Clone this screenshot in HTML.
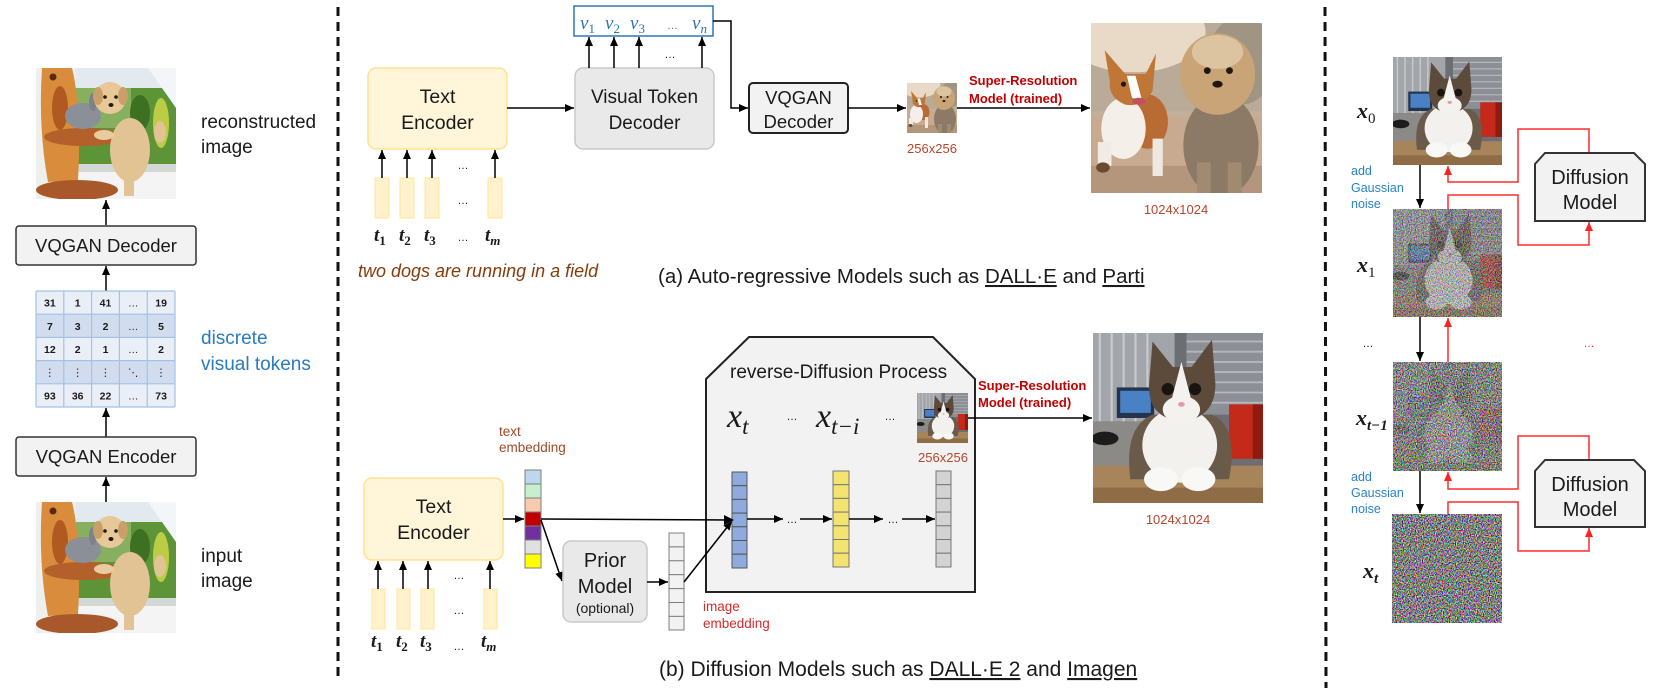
<!DOCTYPE html>
<html><head><meta charset="utf-8">
<style>
html,body{margin:0;padding:0;background:#fff;width:1661px;height:690px;overflow:hidden}
svg{display:block}
text{font-family:"Liberation Sans","DejaVu Sans",sans-serif;fill:#1a1a1a}
.m{font-family:"Liberation Serif","DejaVu Serif",serif;font-style:italic}
.mb{font-family:"Liberation Serif","DejaVu Serif",serif;font-style:italic;font-weight:bold}
.up{font-style:normal}
</style></head><body>
<svg width="1661" height="690" viewBox="0 0 1661 690" xmlns="http://www.w3.org/2000/svg">
<defs>
 <marker id="a" markerWidth="10" markerHeight="8" refX="9" refY="4" orient="auto" markerUnits="userSpaceOnUse"><path d="M0,0 L9,4 L0,8 z" fill="#000"/></marker>
 <marker id="ar" markerWidth="10" markerHeight="8" refX="9" refY="4" orient="auto" markerUnits="userSpaceOnUse"><path d="M0,0 L9,4 L0,8 z" fill="#ff2020"/></marker>
 <filter id="nz" x="0" y="0" width="1" height="1" color-interpolation-filters="sRGB">
  <feTurbulence type="fractalNoise" baseFrequency="0.85" numOctaves="2" seed="5"/>
  <feColorMatrix type="matrix" values="2.6 0 0 0 -0.8  0 2.6 0 0 -0.8  0 0 2.6 0 -0.8  0 0 0 0 1"/>
 </filter>
 <clipPath id="c100"><rect x="0" y="0" width="100" height="100"/></clipPath>
 <clipPath id="cpup"><rect x="0" y="0" width="140" height="131"/></clipPath>
 <g id="cat" clip-path="url(#c100)">
  <rect width="100" height="100" fill="#6c6e72"/>
  <rect x="0" y="0" width="48" height="52" fill="#a2a5a9"/>
  <g stroke="#c8cacc" stroke-width="1.3"><line x1="4" y1="0" x2="4" y2="52"/><line x1="11" y1="0" x2="11" y2="52"/><line x1="18" y1="0" x2="18" y2="52"/><line x1="25" y1="0" x2="25" y2="52"/><line x1="32" y1="0" x2="32" y2="52"/></g>
  <rect x="55" y="0" width="45" height="48" fill="#8c9096"/>
  <g stroke="#b4b8bc" stroke-width="1.1"><line x1="55" y1="5" x2="100" y2="5"/><line x1="55" y1="11" x2="100" y2="11"/><line x1="55" y1="17" x2="100" y2="17"/><line x1="55" y1="23" x2="100" y2="23"/><line x1="55" y1="29" x2="100" y2="29"/><line x1="55" y1="35" x2="100" y2="35"/><line x1="55" y1="41" x2="100" y2="41"/></g>
  <rect x="14" y="32" width="22" height="18" fill="#24344e"/>
  <rect x="16" y="34" width="18" height="13" fill="#4a80c4"/>
  <rect x="0" y="52" width="34" height="30" fill="#8c8a86"/>
  <ellipse cx="7" cy="62" rx="8" ry="4" fill="#1c1c1c"/>
  <rect x="80" y="42" width="20" height="32" fill="#c42a1a"/>
  <rect x="94" y="42" width="6" height="32" fill="#8e1a10"/>
  <rect x="0" y="78" width="100" height="22" fill="#a8845a"/>
  <rect x="0" y="91" width="100" height="9" fill="#8e6c46"/>
  <path d="M22,86 Q18,55 35,48 L70,48 Q86,55 80,86 Z" fill="#6a5a4a"/>
  <ellipse cx="51" cy="66" rx="22" ry="22" fill="#f2f1ee"/>
  <path d="M33,30 L35,5 L47,20 L58,20 L70,4 L72,30 Q72,50 52,52 Q32,50 33,30 Z" fill="#5c4a3a"/>
  <path d="M52,17 L46,40 Q52,52 58,40 Z" fill="#f4f2ef"/>
  <ellipse cx="52" cy="45" rx="11" ry="8" fill="#f4f2ef"/>
  <circle cx="44" cy="33" r="3.6" fill="#1a1410"/>
  <circle cx="60" cy="33" r="3.6" fill="#1a1410"/>
  <ellipse cx="52" cy="42" rx="2" ry="1.4" fill="#e59aa0"/>
  <ellipse cx="40" cy="86" rx="10" ry="7" fill="#f8f8f6"/>
  <ellipse cx="62" cy="86" rx="10" ry="7" fill="#f8f8f6"/>
 </g>
 <g id="dogs" clip-path="url(#c100)">
  <rect width="100" height="100" fill="#c4b09a"/>
  <rect width="100" height="52" fill="#b9ab98"/>
  <ellipse cx="25" cy="5" rx="42" ry="24" fill="#e8dac6"/>
  <ellipse cx="88" cy="22" rx="20" ry="26" fill="#a09482"/>
  <rect y="55" width="100" height="45" fill="#c8aa90"/>
  <rect y="84" width="100" height="16" fill="#b4967c"/>
  <ellipse cx="33" cy="58" rx="12" ry="16" fill="#b86c34"/>
  <ellipse cx="19" cy="62" rx="13" ry="18" fill="#f4efe8"/>
  <path d="M4,70 L12,70 L12,84 L4,86 Z" fill="#f0ebe4"/>
  <ellipse cx="7" cy="85" rx="4" ry="3" fill="#6a4a30"/>
  <path d="M36,68 L42,68 L42,90 L36,90 Z" fill="#efe8de"/>
  <path d="M8,16 L20,30 L32,30 L38,18 L36,40 Q30,50 20,48 Q10,44 11,34 Z" fill="#c07636"/>
  <path d="M21,31 L24,44 L30,46 L26,31 Z" fill="#fff"/>
  <ellipse cx="28" cy="46" rx="4" ry="2" fill="#c05060"/>
  <circle cx="19" cy="36" r="1.5" fill="#201810"/>
  <ellipse cx="76" cy="72" rx="22" ry="30" fill="#8c7a66"/>
  <ellipse cx="74" cy="30" rx="22" ry="24" fill="#c8a476"/>
  <ellipse cx="74" cy="17" rx="15" ry="10" fill="#dcc4a0"/>
  <circle cx="68" cy="28" r="2" fill="#201810"/>
  <circle cx="81" cy="28" r="2" fill="#201810"/>
  <ellipse cx="74" cy="36" rx="3" ry="2" fill="#201810"/>
  <rect x="62" y="82" width="8" height="18" fill="#a08a72"/>
  <rect x="80" y="82" width="8" height="18" fill="#a08a72"/>
 </g>
 <g id="pup" clip-path="url(#cpup)">
  <rect width="140" height="131" fill="#eef0ee"/>
  <rect x="40" y="0" width="100" height="28" fill="#e2eaf0"/>
  <rect x="40" y="20" width="100" height="78" fill="#5e9438"/>
  <rect x="40" y="20" width="55" height="40" fill="#86b060"/>
  <ellipse cx="125" cy="55" rx="8" ry="25" fill="#bccc44"/>
  <ellipse cx="104" cy="45" rx="10" ry="18" fill="#3d7020"/>
  <path d="M112,0 L140,0 L140,40 Z" fill="#f2f6f8"/>
  <rect x="40" y="96" width="100" height="8" fill="#d4d8d4"/>
  <rect x="40" y="104" width="100" height="27" fill="#f4f4f4"/>
  <path d="M6,0 L36,0 Q46,40 42,112 L12,114 Q2,60 6,0 Z" fill="#d88c3c"/>
  <ellipse cx="24" cy="40" rx="8" ry="22" fill="#b05a22"/>
  <circle cx="17" cy="9" r="3.5" fill="#5a2a10"/>
  <ellipse cx="48" cy="69" rx="40" ry="9" fill="#b4602a"/>
  <ellipse cx="41" cy="122" rx="41" ry="10" fill="#a8582a"/>
  <ellipse cx="47" cy="48" rx="18" ry="13" fill="#8a8f98"/>
  <ellipse cx="57" cy="34" rx="4" ry="9" fill="#7c818a"/>
  <ellipse cx="94" cy="82" rx="20" ry="32" fill="#e2c394"/>
  <circle cx="74" cy="30" r="16" fill="#e8c898"/>
  <ellipse cx="62" cy="28" rx="5" ry="9" fill="#c8a068"/>
  <ellipse cx="87" cy="28" rx="5" ry="9" fill="#c8a068"/>
  <ellipse cx="124" cy="64" rx="6" ry="11" fill="#e2c394"/>
  <rect x="88" y="104" width="10" height="24" fill="#e2c394"/>
  <ellipse cx="68" cy="67" rx="10" ry="5" fill="#e8cca0"/>
  <circle cx="69" cy="29" r="1.8" fill="#201810"/>
  <circle cx="80" cy="29" r="1.8" fill="#201810"/>
  <ellipse cx="75" cy="37" rx="2.5" ry="2" fill="#201810"/>
 </g>
</defs>

<!-- ============ LEFT PANEL ============ -->
<use href="#pup" transform="translate(36,68)"/>
<line x1="106" y1="225" x2="106" y2="200" stroke="#000" stroke-width="1.5" marker-end="url(#a)"/>
<text x="201" y="128" font-size="19">reconstructed</text>
<text x="201" y="153" font-size="19">image</text>
<rect x="16" y="226" width="180" height="39" rx="3" fill="#f2f2f2" stroke="#333" stroke-width="1.5"/>
<text x="106" y="252" font-size="18.5" text-anchor="middle">VQGAN Decoder</text>
<line x1="106" y1="291" x2="106" y2="266" stroke="#000" stroke-width="1.5" marker-end="url(#a)"/>
<rect x="36" y="291" width="139" height="23.2" fill="#e9eef7"/>
<rect x="36" y="314.2" width="139" height="23.2" fill="#d1ddef"/>
<rect x="36" y="337.4" width="139" height="23.2" fill="#e9eef7"/>
<rect x="36" y="360.6" width="139" height="23.2" fill="#d1ddef"/>
<rect x="36" y="383.8" width="139" height="23.2" fill="#e9eef7"/>
<g stroke="#a3c2e6" stroke-width="1.2">
 <line x1="36" y1="291" x2="36" y2="407"/><line x1="63.8" y1="291" x2="63.8" y2="407"/><line x1="91.6" y1="291" x2="91.6" y2="407"/><line x1="119.4" y1="291" x2="119.4" y2="407"/><line x1="147.2" y1="291" x2="147.2" y2="407"/><line x1="175" y1="291" x2="175" y2="407"/>
 <line x1="36" y1="291" x2="175" y2="291"/><line x1="36" y1="314.2" x2="175" y2="314.2"/><line x1="36" y1="337.4" x2="175" y2="337.4"/><line x1="36" y1="360.6" x2="175" y2="360.6"/><line x1="36" y1="383.8" x2="175" y2="383.8"/><line x1="36" y1="407" x2="175" y2="407"/>
</g>
<g font-size="10.5" font-weight="bold" text-anchor="middle">
 <text x="49.9" y="306.6">31</text><text x="77.7" y="306.6">1</text><text x="105.5" y="306.6">41</text><text x="133.3" y="306.6" font-weight="normal">…</text><text x="161.1" y="306.6">19</text>
 <text x="49.9" y="329.8">7</text><text x="77.7" y="329.8">3</text><text x="105.5" y="329.8">2</text><text x="133.3" y="329.8" font-weight="normal">…</text><text x="161.1" y="329.8">5</text>
 <text x="49.9" y="353">12</text><text x="77.7" y="353">2</text><text x="105.5" y="353">1</text><text x="133.3" y="353" font-weight="normal">…</text><text x="161.1" y="353">2</text>
 <text x="49.9" y="376.2" font-weight="normal">⋮</text><text x="77.7" y="376.2" font-weight="normal">⋮</text><text x="105.5" y="376.2" font-weight="normal">⋮</text><text x="133.3" y="376.2" font-weight="normal">⋱</text><text x="161.1" y="376.2" font-weight="normal">⋮</text>
 <text x="49.9" y="399.4">93</text><text x="77.7" y="399.4">36</text><text x="105.5" y="399.4">22</text><text x="133.3" y="399.4" font-weight="normal">…</text><text x="161.1" y="399.4">73</text>
</g>
<text x="201" y="344" font-size="19" style="fill:#2a7ac0">discrete</text>
<text x="201" y="370" font-size="19" style="fill:#2a7ac0">visual tokens</text>
<line x1="106" y1="437" x2="106" y2="408" stroke="#000" stroke-width="1.5" marker-end="url(#a)"/>
<rect x="16" y="437" width="180" height="39" rx="3" fill="#f2f2f2" stroke="#333" stroke-width="1.5"/>
<text x="106" y="463" font-size="18.5" text-anchor="middle">VQGAN Encoder</text>
<line x1="106" y1="502" x2="106" y2="477" stroke="#000" stroke-width="1.5" marker-end="url(#a)"/>
<use href="#pup" transform="translate(36,502)"/>
<text x="201" y="562" font-size="19">input</text>
<text x="201" y="587" font-size="19">image</text>

<!-- dashed separators -->
<line x1="338" y1="7" x2="338" y2="682" stroke="#111" stroke-width="3" stroke-dasharray="9,6"/>
<line x1="1325" y1="7" x2="1326" y2="688" stroke="#111" stroke-width="3" stroke-dasharray="9,6"/>

<!-- ============ (a) AUTO-REGRESSIVE ============ -->
<rect x="368" y="68" width="139" height="81" rx="8" fill="#fff5d9" stroke="#ffe28f" stroke-width="1.5"/>
<text x="437.5" y="103" font-size="19.5" text-anchor="middle">Text</text>
<text x="437.5" y="129" font-size="19.5" text-anchor="middle">Encoder</text>
<g fill="#fff2cc" stroke="#ffe699" stroke-width="1">
 <rect x="375" y="178" width="14" height="40"/><rect x="400" y="178" width="14" height="40"/><rect x="425" y="178" width="14" height="40"/><rect x="488" y="178" width="14" height="40"/>
</g>
<g stroke="#000" stroke-width="1.5">
 <line x1="382" y1="178" x2="382" y2="150" marker-end="url(#a)"/><line x1="407" y1="178" x2="407" y2="150" marker-end="url(#a)"/><line x1="432" y1="178" x2="432" y2="150" marker-end="url(#a)"/><line x1="495" y1="178" x2="495" y2="150" marker-end="url(#a)"/>
</g>
<g font-size="11" text-anchor="middle"><text x="463" y="169">…</text><text x="463" y="204">…</text><text x="463" y="241">…</text></g>
<g font-size="19" class="mb">
 <text x="374" y="241" class="mb">t<tspan class="up" font-size="13" dy="4">1</tspan></text>
 <text x="399" y="241" class="mb">t<tspan class="up" font-size="13" dy="4">2</tspan></text>
 <text x="424" y="241" class="mb">t<tspan class="up" font-size="13" dy="4">3</tspan></text>
 <text x="485" y="241" class="mb">t<tspan font-size="13" dy="4">m</tspan></text>
</g>
<text x="358" y="277" font-size="18" font-style="italic" style="fill:#843c0c">two dogs are running in a field</text>
<line x1="507" y1="108" x2="574" y2="108" stroke="#000" stroke-width="1.5" marker-end="url(#a)"/>
<rect x="575" y="68" width="139" height="81" rx="8" fill="#e9e9e9" stroke="#c9c9c9" stroke-width="1.5"/>
<text x="644.5" y="103" font-size="19" text-anchor="middle">Visual Token</text>
<text x="644.5" y="129" font-size="19" text-anchor="middle">Decoder</text>
<g stroke="#000" stroke-width="1.5">
 <line x1="589" y1="68" x2="589" y2="37" marker-end="url(#a)"/><line x1="614" y1="68" x2="614" y2="37" marker-end="url(#a)"/><line x1="639" y1="68" x2="639" y2="37" marker-end="url(#a)"/><line x1="702" y1="68" x2="702" y2="37" marker-end="url(#a)"/>
</g>
<text x="670" y="58" font-size="11" text-anchor="middle">…</text>
<rect x="574" y="6" width="139" height="30" fill="#fff" stroke="#2e75b6" stroke-width="1.5"/>
<g font-size="19" style="fill:#2e75b6">
 <text x="580" y="29" class="m" style="fill:#2e75b6">v<tspan class="up" font-size="13" dy="4" style="fill:#2e75b6">1</tspan></text>
 <text x="605" y="29" class="m" style="fill:#2e75b6">v<tspan class="up" font-size="13" dy="4" style="fill:#2e75b6">2</tspan></text>
 <text x="630" y="29" class="m" style="fill:#2e75b6">v<tspan class="up" font-size="13" dy="4" style="fill:#2e75b6">3</tspan></text>
 <text x="667" y="29" font-size="11" style="fill:#2e75b6">…</text>
 <text x="692" y="29" class="m" style="fill:#2e75b6">v<tspan font-size="13" dy="4" style="fill:#2e75b6">n</tspan></text>
</g>
<polyline points="713,21 731,21 731,108 748,108" fill="none" stroke="#000" stroke-width="1.5" marker-end="url(#a)"/>
<rect x="749" y="83" width="99" height="50" rx="4" fill="#f2f2f2" stroke="#222" stroke-width="2"/>
<text x="798.5" y="104" font-size="18.5" text-anchor="middle">VQGAN</text>
<text x="798.5" y="128" font-size="18.5" text-anchor="middle">Decoder</text>
<line x1="848" y1="108" x2="906" y2="108" stroke="#000" stroke-width="1.5" marker-end="url(#a)"/>
<use href="#dogs" transform="translate(907,83) scale(0.5,0.5)"/>
<text x="932" y="153" font-size="13" text-anchor="middle" style="fill:#b5462a">256x256</text>
<text x="969" y="85" font-size="13" font-weight="bold" style="fill:#c00000">Super-Resolution</text>
<text x="969" y="103" font-size="13" font-weight="bold" style="fill:#c00000">Model (trained)</text>
<line x1="957" y1="108" x2="1090" y2="108" stroke="#000" stroke-width="1.5" marker-end="url(#a)"/>
<use href="#dogs" transform="translate(1091,23) scale(1.71,1.70)"/>
<text x="1176" y="214" font-size="13" text-anchor="middle" style="fill:#b5462a">1024x1024</text>
<text x="658" y="283" font-size="20.5">(a) Auto-regressive Models such as <tspan text-decoration="underline">DALL·E</tspan> and <tspan text-decoration="underline">Parti</tspan></text>

<!-- ============ (b) DIFFUSION ============ -->
<text x="499" y="436" font-size="13.5" style="fill:#a04a28">text</text>
<text x="499" y="452" font-size="13.5" style="fill:#a04a28">embedding</text>
<rect x="364" y="478" width="139" height="82" rx="8" fill="#fff5d9" stroke="#ffe28f" stroke-width="1.5"/>
<text x="433.5" y="513" font-size="19.5" text-anchor="middle">Text</text>
<text x="433.5" y="539" font-size="19.5" text-anchor="middle">Encoder</text>
<g fill="#fff2cc" stroke="#ffe699" stroke-width="1">
 <rect x="372" y="589" width="13" height="40"/><rect x="397" y="589" width="13" height="40"/><rect x="421" y="589" width="13" height="40"/><rect x="484" y="589" width="13" height="40"/>
</g>
<g stroke="#000" stroke-width="1.5">
 <line x1="378" y1="589" x2="378" y2="561" marker-end="url(#a)"/><line x1="403" y1="589" x2="403" y2="561" marker-end="url(#a)"/><line x1="428" y1="589" x2="428" y2="561" marker-end="url(#a)"/><line x1="490" y1="589" x2="490" y2="561" marker-end="url(#a)"/>
</g>
<g font-size="11" text-anchor="middle"><text x="459" y="579">…</text><text x="459" y="614">…</text><text x="459" y="650">…</text></g>
<g font-size="19">
 <text x="371" y="647" class="mb">t<tspan class="up" font-size="13" dy="4">1</tspan></text>
 <text x="396" y="647" class="mb">t<tspan class="up" font-size="13" dy="4">2</tspan></text>
 <text x="420" y="647" class="mb">t<tspan class="up" font-size="13" dy="4">3</tspan></text>
 <text x="481" y="647" class="mb">t<tspan font-size="13" dy="4">m</tspan></text>
</g>
<g stroke="#7f7f7f" stroke-width="1">
 <rect x="525" y="470" width="16" height="14" fill="#bdd7ee"/>
 <rect x="525" y="484" width="16" height="14" fill="#c6efce"/>
 <rect x="525" y="498" width="16" height="14" fill="#f8cbad"/>
 <rect x="525" y="512" width="16" height="14" fill="#c00000"/>
 <rect x="525" y="526" width="16" height="14" fill="#7030a0"/>
 <rect x="525" y="540" width="16" height="14" fill="#e0e0e0"/>
 <rect x="525" y="554" width="16" height="14" fill="#ffff00"/>
</g>
<line x1="503" y1="519" x2="524" y2="519" stroke="#000" stroke-width="1.5" marker-end="url(#a)"/>
<line x1="541" y1="520" x2="562" y2="581" stroke="#000" stroke-width="1.5" marker-end="url(#a)"/>
<rect x="563" y="541" width="84" height="81" rx="8" fill="#e9e9e9" stroke="#c9c9c9" stroke-width="1.5"/>
<text x="605" y="567" font-size="20" text-anchor="middle">Prior</text>
<text x="605" y="593" font-size="20" text-anchor="middle">Model</text>
<text x="605" y="613" font-size="14" text-anchor="middle">(optional)</text>
<line x1="647" y1="582" x2="668" y2="582" stroke="#000" stroke-width="1.5" marker-end="url(#a)"/>
<g fill="#f2f2f2" stroke="#7f7f7f" stroke-width="1">
 <rect x="669" y="533" width="15" height="13.9"/><rect x="669" y="546.9" width="15" height="13.9"/><rect x="669" y="560.8" width="15" height="13.9"/><rect x="669" y="574.7" width="15" height="13.9"/><rect x="669" y="588.6" width="15" height="13.9"/><rect x="669" y="602.5" width="15" height="13.9"/><rect x="669" y="616.4" width="15" height="13.6"/>
</g>
<text x="703" y="611" font-size="13.5" style="fill:#d42a2a">image</text>
<text x="703" y="628" font-size="13.5" style="fill:#d42a2a">embedding</text>

<polygon points="706,379 749,337 933,337 975,379 975,592 706,592" fill="#f2f2f2" stroke="#222" stroke-width="2"/>
<line x1="541" y1="519" x2="733" y2="520" stroke="#000" stroke-width="1.5" marker-end="url(#a)"/>
<line x1="684" y1="582" x2="732" y2="521" stroke="#000" stroke-width="1.5" marker-end="url(#a)"/>
<text x="730" y="378" font-size="19">reverse-Diffusion Process</text>
<text x="727" y="427" class="m" font-size="34">x<tspan font-size="23" dy="7">t</tspan></text>
<text x="792" y="420" font-size="11" text-anchor="middle">…</text>
<text x="816" y="427" class="m" font-size="34">x<tspan font-size="23" dy="7">t−i</tspan></text>
<text x="890" y="420" font-size="11" text-anchor="middle">…</text>
<use href="#cat" transform="translate(917,393) scale(0.51,0.5)"/>
<text x="943" y="462" font-size="13" text-anchor="middle" style="fill:#b5462a">256x256</text>
<g fill="#8faadc" stroke="#555" stroke-width="1">
 <rect x="732" y="472" width="15" height="13.7"/><rect x="732" y="485.7" width="15" height="13.7"/><rect x="732" y="499.4" width="15" height="13.7"/><rect x="732" y="513.1" width="15" height="13.7"/><rect x="732" y="526.8" width="15" height="13.7"/><rect x="732" y="540.5" width="15" height="13.7"/><rect x="732" y="554.2" width="15" height="13.8"/>
</g>
<path d="M724,515 L734,520 L724,525 z" fill="#000"/>
<g fill="#f2e46e" stroke="#777" stroke-width="1">
 <rect x="833" y="471" width="16" height="13.7"/><rect x="833" y="484.7" width="16" height="13.7"/><rect x="833" y="498.4" width="16" height="13.7"/><rect x="833" y="512.1" width="16" height="13.7"/><rect x="833" y="525.8" width="16" height="13.7"/><rect x="833" y="539.5" width="16" height="13.7"/><rect x="833" y="553.2" width="16" height="13.8"/>
</g>
<g fill="#d3d3d3" stroke="#777" stroke-width="1">
 <rect x="936" y="471" width="15" height="13.7"/><rect x="936" y="484.7" width="15" height="13.7"/><rect x="936" y="498.4" width="15" height="13.7"/><rect x="936" y="512.1" width="15" height="13.7"/><rect x="936" y="525.8" width="15" height="13.7"/><rect x="936" y="539.5" width="15" height="13.7"/><rect x="936" y="553.2" width="15" height="13.8"/>
</g>
<g stroke="#000" stroke-width="1.5">
 <line x1="747" y1="519" x2="783" y2="519" marker-end="url(#a)"/>
 <line x1="800" y1="519" x2="832" y2="519" marker-end="url(#a)"/>
 <line x1="849" y1="519" x2="883" y2="519" marker-end="url(#a)"/>
 <line x1="902" y1="519" x2="935" y2="519" marker-end="url(#a)"/>
</g>
<text x="792" y="523" font-size="11" text-anchor="middle">…</text>
<text x="893" y="523" font-size="11" text-anchor="middle">…</text>
<text x="978" y="390" font-size="13" font-weight="bold" style="fill:#c00000">Super-Resolution</text>
<text x="978" y="407" font-size="13" font-weight="bold" style="fill:#c00000">Model (trained)</text>
<line x1="968" y1="418" x2="1092" y2="418" stroke="#000" stroke-width="1.5" marker-end="url(#a)"/>
<use href="#cat" transform="translate(1093,333) scale(1.7,1.7)"/>
<text x="1178" y="524" font-size="13" text-anchor="middle" style="fill:#b5462a">1024x1024</text>
<text x="659" y="676" font-size="21">(b) Diffusion Models such as <tspan text-decoration="underline">DALL·E 2</tspan> and <tspan text-decoration="underline">Imagen</tspan></text>

<!-- ============ RIGHT PANEL ============ -->
<use href="#cat" transform="translate(1393,57) scale(1.09,1.08)"/>
<use href="#cat" transform="translate(1393,209) scale(1.09,1.08)"/>
<rect x="1393" y="209" width="109" height="108" filter="url(#nz)" opacity="0.62"/>
<use href="#cat" transform="translate(1393,362) scale(1.09,1.09)"/>
<rect x="1393" y="362" width="109" height="109" filter="url(#nz)" opacity="0.85"/>
<rect x="1392" y="514" width="110" height="109" filter="url(#nz)"/>

<text x="1357" y="118" font-size="22" class="mb">x<tspan class="up" font-weight="normal" font-size="15" dy="5">0</tspan></text>
<text x="1357" y="272" font-size="22" class="mb">x<tspan class="up" font-weight="normal" font-size="15" dy="5">1</tspan></text>
<text x="1356" y="425" font-size="22" class="mb">x<tspan font-size="15" dy="5">t−1</tspan></text>
<text x="1363" y="578" font-size="22" class="mb">x<tspan font-size="15" dy="5">t</tspan></text>

<g font-size="12.5" style="fill:#2a82cc">
 <text x="1351" y="175" style="fill:#2a82cc">add</text><text x="1351" y="192" style="fill:#2a82cc">Gaussian</text><text x="1351" y="208" style="fill:#2a82cc">noise</text>
 <text x="1351" y="481" style="fill:#2a82cc">add</text><text x="1351" y="497" style="fill:#2a82cc">Gaussian</text><text x="1351" y="513" style="fill:#2a82cc">noise</text>
</g>
<g stroke="#000" stroke-width="1.5">
 <line x1="1420" y1="165" x2="1420" y2="208" marker-end="url(#a)"/>
 <line x1="1420" y1="317" x2="1420" y2="361" marker-end="url(#a)"/>
 <line x1="1420" y1="471" x2="1420" y2="513" marker-end="url(#a)"/>
</g>
<text x="1368" y="347" font-size="11" text-anchor="middle">…</text>
<text x="1589" y="347" font-size="11" text-anchor="middle" style="fill:#ff2020">…</text>

<g fill="none" stroke="#ff2b2b" stroke-width="1.5">
 <path d="M1589,153 V129 H1518 V182 H1448 V166" marker-end="url(#ar)"/>
 <path d="M1448,209 V195 H1518 V245 H1589 V222" marker-end="url(#ar)"/>
 <path d="M1448,362 V318" marker-end="url(#ar)"/>
 <path d="M1589,460 V436 H1518 V489 H1448 V472" marker-end="url(#ar)"/>
 <path d="M1448,514 V502 H1518 V551 H1589 V528" marker-end="url(#ar)"/>
</g>
<polygon points="1535,164 1545,153 1634,153 1645,164 1645,221 1535,221" fill="#f2f2f2" stroke="#333" stroke-width="2"/>
<text x="1590" y="184" font-size="20" text-anchor="middle">Diffusion</text>
<text x="1590" y="209" font-size="20" text-anchor="middle">Model</text>
<polygon points="1535,471 1545,460 1634,460 1645,471 1645,527 1535,527" fill="#f2f2f2" stroke="#333" stroke-width="2"/>
<text x="1590" y="491" font-size="20" text-anchor="middle">Diffusion</text>
<text x="1590" y="516" font-size="20" text-anchor="middle">Model</text>
</svg>
</body></html>
